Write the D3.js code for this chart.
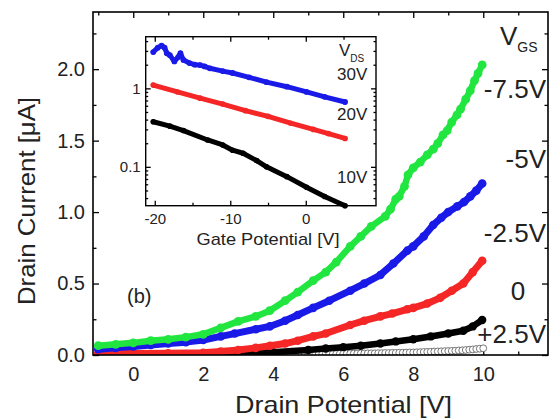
<!DOCTYPE html>
<html>
<head>
<meta charset="utf-8">
<script src="https://cdn.jsdelivr.net/npm/d3@7"></script>
<style>
  body { margin: 0; background: #fff; }
  svg { display: block; }
  text { font-family: "Liberation Sans", Arial, sans-serif; fill: #222; }
</style>
</head>
<body>
<div id="chart"></div>
<script>

// ---- main panel: drain current vs drain potential, one curve per V_GS  [V, uA]
const green = [[-1,0.065],[-0.5,0.075],[0,0.085],[0.5,0.10],[1,0.11],[1.5,0.125],[2,0.145],[2.5,0.19],
  [3,0.235],[3.5,0.27],[3.9,0.31],[4.34,0.38],[4.7,0.44],[5.14,0.52],[5.5,0.58],[5.8,0.65],[6.2,0.76],
  [6.5,0.83],[6.8,0.90],[7.2,0.97],[7.35,1.02],[7.5,1.09],[7.6,1.11],[7.75,1.18],[7.85,1.26],[8,1.31],
  [8.2,1.35],[8.4,1.40],[8.57,1.44],[8.7,1.48],[8.85,1.54],[8.97,1.57],[9.1,1.63],[9.25,1.68],[9.35,1.72],
  [9.5,1.79],[9.63,1.85],[9.75,1.92],[9.85,1.97],[9.97,2.03]];
const blue = [[-1,0.04],[-0.5,0.05],[0,0.06],[0.5,0.07],[1,0.08],[1.5,0.09],[2,0.105],[2.5,0.13],[2.9,0.15],
  [3.5,0.18],[3.9,0.20],[4.34,0.24],[4.7,0.28],[5.14,0.33],[5.6,0.38],[6.2,0.45],[6.6,0.50],[7.06,0.56],
  [7.43,0.64],[7.83,0.73],[8,0.76],[8.3,0.83],[8.57,0.91],[8.8,0.96],[9,1.00],[9.26,1.04],[9.45,1.07],
  [9.63,1.11],[9.8,1.15],[9.97,1.20]];
const red = [[-1,0.01],[0,0.01],[1,0.012],[2,0.015],[2.5,0.025],[3,0.035],[3.5,0.05],[3.91,0.065],[4.34,0.08],
  [4.7,0.10],[5.14,0.13],[5.5,0.15],[6.2,0.21],[6.6,0.24],[7.06,0.27],[7.4,0.29],[7.83,0.32],[8,0.33],
  [8.4,0.36],[8.77,0.40],[9.1,0.45],[9.43,0.50],[9.7,0.58],[9.97,0.66]];
const black = [[-1,0.003],[0,0.004],[1,0.005],[2,0.006],[3,0.008],[4,0.02],[5,0.035],[5.5,0.045],[6,0.055],
  [6.5,0.065],[7.06,0.08],[7.5,0.095],[8,0.11],[8.5,0.13],[9,0.15],[9.43,0.17],[9.7,0.20],[9.97,0.245]];
// +2.5V, open circles, drain sweep -1 .. 10 V in 0.1 V steps
const openStart = -1, openStep = 0.1;
const openI = [0.003,0.003,0.003,0.003,0.003,0.003,0.003,0.003,0.003,0.003,
  0.003,0.003,0.003,0.003,0.003,0.003,0.003,0.003,0.003,0.003,
  0.003,0.003,0.003,0.003,0.003,0.003,0.003,0.003,0.003,0.003,
  0.003,0.003,0.003,0.003,0.003,0.003,0.003,0.003,0.003,0.003,
  0.003,0.003,0.003,0.003,0.003,0.003,0.003,0.003,0.003,0.003,
  0.004,0.004,0.004,0.005,0.005,0.005,0.005,0.006,0.006,0.006,
  0.006,0.007,0.007,0.007,0.007,0.008,0.008,0.008,0.008,0.009,
  0.009,0.009,0.010,0.010,0.010,0.011,0.011,0.012,0.012,0.012,
  0.013,0.013,0.014,0.014,0.015,0.015,0.016,0.016,0.017,0.018,
  0.018,0.019,0.020,0.021,0.022,0.023,0.024,0.025,0.026,0.027,
  0.028,0.029,0.030,0.032,0.033,0.035,0.037,0.039,0.042,0.044,
  0.047];

const gateLabels = ["-7.5V", "-5V", "-2.5V", "0", "+2.5V"];
const yTicks = [0, 0.5, 1.0, 1.5, 2.0];
const xTicks = [0, 2, 4, 6, 8, 10];

// ---- inset: drain current vs gate potential (log), one curve per V_DS
const insetBlue = [[-20.2,2.9],[-19.6,3.3],[-19.1,3.5],[-18.7,3.3],[-18.4,2.8],[-18.0,2.65],[-17.4,2.2],
  [-16.9,2.5],[-16.6,2.8],[-16.2,2.3],[-15.4,2.1],[-14.7,2.0],[-14.0,1.98],[-13.4,1.9],[-12.7,1.8],
  [-11,1.66],[-9.7,1.57],[-7.5,1.38],[-5.2,1.2],[-2.5,1.05],[0.1,0.9],[2.5,0.78],[5.2,0.67]];
const insetRed = [[-20.2,1.10],[-17,0.90],[-14,0.75],[-11,0.63],[-8,0.52],[-5,0.44],[-2,0.36],[1,0.30],
  [3,0.265],[5.2,0.23]];
const insetBlack = [[-20.2,0.375],[-18,0.33],[-16.2,0.29],[-13,0.22],[-11,0.19],[-9.7,0.163],[-8.3,0.149],
  [-6.5,0.12],[-5.2,0.10],[-2.5,0.075],[0.1,0.055],[2.5,0.042],[5.2,0.032]];
const drainLabels = ["30V", "20V", "10V"];
const insetXTicks = [-20, -10, 0];
const insetYTicks = [0.1, 1];

const C = { green: "#22e640", blue: "#1a1ae8", red: "#f42626", black: "#000" };

const W = 549, H = 419;
const svg = d3.select("#chart").append("svg").attr("width", W).attr("height", H);
svg.append("rect").attr("width", W).attr("height", H).attr("fill", "#fff");

const x = d3.scaleLinear().domain([-1.15, 11.85]).range([93, 548]);
const y = d3.scaleLinear().domain([0, 2.4]).range([355, 12]);

function styleAxis(g, size) {
  g.select(".domain").remove();
  g.selectAll("line").attr("stroke", "#000").attr("stroke-width", 1.3);
  g.selectAll("text").attr("font-size", size).attr("fill", "#222")
    .attr("font-family", '"Liberation Sans", Arial, sans-serif');
}

// main axes, ticks pointing inward
const [x0, x1] = x.range(), [y0, y1] = y.range();
const minorY = [0.25, 0.75, 1.25, 1.75, 2.25];
const minorX = [-1, 1, 3, 5, 7, 9, 11];

svg.append("g").attr("transform", `translate(${x0},0)`)
  .call(d3.axisLeft(y).tickValues(yTicks).tickSize(-6).tickPadding(8).tickFormat(d3.format(".1f")))
  .call(g => styleAxis(g, 20));
svg.append("g").attr("transform", `translate(${x0},0)`)
  .call(d3.axisLeft(y).tickValues(minorY).tickSize(-3.5).tickFormat(""))
  .call(g => styleAxis(g, 20));
svg.append("g").attr("transform", `translate(${x1},0)`)
  .call(d3.axisRight(y).tickValues(yTicks).tickSize(-6).tickFormat(""))
  .call(g => styleAxis(g, 20));
svg.append("g").attr("transform", `translate(${x1},0)`)
  .call(d3.axisRight(y).tickValues(minorY).tickSize(-3.5).tickFormat(""))
  .call(g => styleAxis(g, 20));
svg.append("g").attr("transform", `translate(0,${y0})`)
  .call(d3.axisBottom(x).tickValues(xTicks).tickSize(-6).tickPadding(12).tickFormat(d => String(d)))
  .call(g => styleAxis(g, 20));
svg.append("g").attr("transform", `translate(0,${y0})`)
  .call(d3.axisBottom(x).tickValues(minorX).tickSize(-3.5).tickFormat(""))
  .call(g => styleAxis(g, 20));
svg.append("g").attr("transform", `translate(0,${y1})`)
  .call(d3.axisTop(x).tickValues(xTicks).tickSize(-6).tickFormat(""))
  .call(g => styleAxis(g, 20));
svg.append("g").attr("transform", `translate(0,${y1})`)
  .call(d3.axisTop(x).tickValues(minorX).tickSize(-3.5).tickFormat(""))
  .call(g => styleAxis(g, 20));

// clip for data
svg.append("clipPath").attr("id", "clipMain").append("rect")
  .attr("x", x0).attr("y", y1).attr("width", x1 - x0).attr("height", y0 - y1);

const data = svg.append("g").attr("clip-path", "url(#clipMain)");

// open circles (+2.5V)
data.append("g").selectAll("circle")
  .data(openI)
  .enter().append("circle")
  .attr("cx", (d, i) => x(openStart + i * openStep))
  .attr("cy", d => y(d))
  .attr("r", 3.4)
  .attr("fill", "#fff")
  .attr("stroke", "#555")
  .attr("stroke-width", 0.8);

function drawSeries(g, pts, xs, ys, color, w, r) {
  const line = d3.line().x(d => xs(d[0])).y(d => ys(d[1]));
  g.append("path").datum(pts)
    .attr("d", line)
    .attr("fill", "none")
    .attr("stroke", color)
    .attr("stroke-width", w)
    .attr("stroke-linejoin", "round")
    .attr("stroke-linecap", "round");
  g.append("g").selectAll("circle")
    .data(pts)
    .enter().append("circle")
    .attr("cx", d => xs(d[0]))
    .attr("cy", d => ys(d[1]))
    .attr("r", r)
    .attr("fill", color);
}

drawSeries(data, black, x, y, C.black, 6.5, 4.2);
drawSeries(data, red, x, y, C.red, 7, 4.3);
drawSeries(data, blue, x, y, C.blue, 7, 4.3);
drawSeries(data, green, x, y, C.green, 6.5, 4.4);

// frame
svg.append("rect")
  .attr("x", x0).attr("y", y1).attr("width", x1 - x0).attr("height", y0 - y1)
  .attr("fill", "none").attr("stroke", "#000").attr("stroke-width", 1.6);

// axis titles
svg.append("text")
  .attr("x", 343.5).attr("y", 413)
  .attr("text-anchor", "middle")
  .attr("font-size", 24)
  .attr("textLength", 217).attr("lengthAdjust", "spacingAndGlyphs")
  .text("Drain Potential [V]");
svg.append("text")
  .attr("transform", "translate(35,201) rotate(-90)")
  .attr("text-anchor", "middle")
  .attr("font-size", 24)
  .attr("textLength", 208).attr("lengthAdjust", "spacingAndGlyphs")
  .text("Drain Current [\u03bcA]");

svg.append("text").attr("x", 127).attr("y", 303).attr("font-size", 20).text("(b)");

// V_GS labels at the right
const gateLabelY = [1.80, 1.31, 0.79, 0.385, 0.084];
const vgs = svg.append("text").attr("x", 500).attr("y", 45).attr("font-size", 26);
vgs.append("tspan").text("V");
vgs.append("tspan").attr("font-size", 14).attr("dy", 7).text("GS");
gateLabels.forEach((t, i) => {
  svg.append("text")
    .attr("x", t === "0" ? 518 : 546)
    .attr("y", y(gateLabelY[i]))
    .attr("text-anchor", t === "0" ? "middle" : "end")
    .attr("font-size", 26)
    .text(t);
});

// ---------------- inset ----------------
const xi = d3.scaleLinear().domain([-21.2, 9.3]).range([145.7, 376]);
const yi = d3.scaleLog().domain([0.032, 4.55]).range([205.7, 36.7]);
const [ix0, ix1] = xi.range(), [iy0, iy1] = yi.range();

svg.append("rect")
  .attr("x", ix0).attr("y", iy1).attr("width", ix1 - ix0).attr("height", iy0 - iy1)
  .attr("fill", "#fff");

const minorIY = [0.04, 0.05, 0.06, 0.07, 0.08, 0.09, 0.2, 0.3, 0.4, 0.5, 0.6, 0.7, 0.8, 0.9, 2, 3, 4];
const minorIX = [-15, -5, 5];

svg.append("g").attr("transform", `translate(${ix0},0)`)
  .call(d3.axisLeft(yi).tickValues(insetYTicks).tickSize(-5).tickPadding(5).tickFormat(d => String(d)))
  .call(g => styleAxis(g, 15));
svg.append("g").attr("transform", `translate(${ix0},0)`)
  .call(d3.axisLeft(yi).tickValues(minorIY).tickSize(-2.5).tickFormat(""))
  .call(g => styleAxis(g, 15));
svg.append("g").attr("transform", `translate(${ix1},0)`)
  .call(d3.axisRight(yi).tickValues(insetYTicks).tickSize(-5).tickFormat(""))
  .call(g => styleAxis(g, 15));
svg.append("g").attr("transform", `translate(${ix1},0)`)
  .call(d3.axisRight(yi).tickValues(minorIY).tickSize(-2.5).tickFormat(""))
  .call(g => styleAxis(g, 15));
svg.append("g").attr("transform", `translate(0,${iy0})`)
  .call(d3.axisBottom(xi).tickValues(insetXTicks).tickSize(-5).tickPadding(8).tickFormat(d => String(d)))
  .call(g => styleAxis(g, 15));
svg.append("g").attr("transform", `translate(0,${iy0})`)
  .call(d3.axisBottom(xi).tickValues(minorIX).tickSize(-3).tickFormat(""))
  .call(g => styleAxis(g, 15));
svg.append("g").attr("transform", `translate(0,${iy1})`)
  .call(d3.axisTop(xi).tickValues(insetXTicks).tickSize(-5).tickFormat(""))
  .call(g => styleAxis(g, 15));
svg.append("g").attr("transform", `translate(0,${iy1})`)
  .call(d3.axisTop(xi).tickValues(minorIX).tickSize(-3).tickFormat(""))
  .call(g => styleAxis(g, 15));

const inset = svg.append("g");
drawSeries(inset, insetBlack, xi, yi, C.black, 5, 2.8);
drawSeries(inset, insetRed, xi, yi, C.red, 5, 2.8);
drawSeries(inset, insetBlue, xi, yi, C.blue, 5, 2.9);

svg.append("rect")
  .attr("x", ix0).attr("y", iy1).attr("width", ix1 - ix0).attr("height", iy0 - iy1)
  .attr("fill", "none").attr("stroke", "#000").attr("stroke-width", 1.4);

svg.append("text")
  .attr("x", 268).attr("y", 245)
  .attr("text-anchor", "middle")
  .attr("font-size", 17)
  .attr("textLength", 143).attr("lengthAdjust", "spacingAndGlyphs")
  .text("Gate Potential [V]");

const vds = svg.append("text").attr("x", 339).attr("y", 56).attr("font-size", 17);
vds.append("tspan").text("V");
vds.append("tspan").attr("font-size", 10).attr("dy", 6).text("DS");
const drainLabelY = [1.26, 0.40, 0.062];
drainLabels.forEach((t, i) => {
  svg.append("text")
    .attr("x", 337)
    .attr("y", yi(drainLabelY[i]))
    .attr("font-size", 17)
    .text(t);
});

</script>
</body>
</html>
